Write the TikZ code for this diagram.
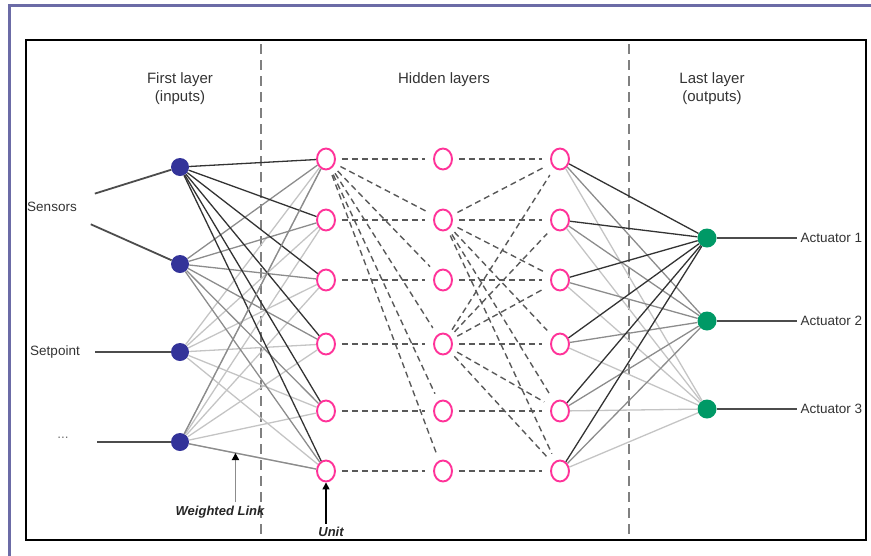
\documentclass[tikz,border=0pt]{standalone}
\usepackage{fontspec}
\setmainfont{Liberation Sans}
\usetikzlibrary{arrows.meta,calc,shapes.geometric}
\definecolor{Frame}{HTML}{6B6BA6}
\definecolor{InBlue}{HTML}{333399}
\definecolor{UnitPink}{HTML}{FF3399}
\definecolor{OutGreen}{HTML}{009966}
\definecolor{Dark}{HTML}{333333}
\definecolor{Mid}{HTML}{8C8C8C}
\definecolor{Pale}{HTML}{C4C4C4}

\begin{document}
\begin{tikzpicture}[x=1pt,y=-1pt,>={Triangle[length=7pt,width=7pt,color=black]},
    innode/.style={circle,fill=InBlue,minimum size=18pt,inner sep=0pt},
    unit/.style={ellipse,draw=UnitPink,line width=1.9pt,fill=white,minimum width=18pt,minimum height=21pt,inner sep=0pt},
    outnode/.style={circle,fill=OutGreen,minimum size=19pt,inner sep=0pt},
    head/.style={font=\fontsize{15}{18}\selectfont,text=black!80,align=center},
    lab/.style={font=\fontsize{13.5}{15}\selectfont,text=black!80},
    note/.style={font=\bfseries\itshape\fontsize{13}{15}\selectfont,text=black!85},
    link/.style={line width=1.3pt},
    feed/.style={line width=1.8pt,black!70},
    hop/.style={line width=1.4pt,black!65,dash pattern=on 6pt off 4pt,shorten <=6pt,shorten >=8pt}]
  \useasboundingbox (0,0) rectangle (871,555);
  \draw[Frame,line width=3pt] (9,560) -- (9,5) -- (875,5);
  \draw[line width=2.4pt] (26,40) rectangle (866,540);
  \foreach \x in {261,629}
    \draw[black!50,line width=2pt,dash pattern=on 10pt off 6pt] (\x,44) -- (\x,538);

  \node[head] (first) at (180,89) {First layer\\(inputs)};
  \node[head] (hidden) at (444,80) {Hidden layers};
  \node[head] (last) at (712,89) {Last layer\\(outputs)};

  \foreach \i/\y in {1/167,2/264,3/352,4/442}
    \node[innode] (in\i) at (180,\y) {};
  \foreach \i/\y in {1/159,2/220,3/280,4/344,5/411,6/471}{
    \node[unit] (ha\i) at (326,\y) {};
    \node[unit] (hb\i) at (443,\y) {};
    \node[unit] (hc\i) at (560,\y) {};}
  \foreach \k/\y in {1/238,2/321,3/409}{
    \node[outnode] (out\k) at (707,\y) {};
    \node[lab,anchor=west] (act\k) at (797,\y) {Actuator \k};
    \draw[feed] (out\k) -- (act\k);}

  \foreach \i/\col in {4/Pale,3/Pale,2/Mid,1/Dark}
    \foreach \j in {1,...,6}
      \draw[link,\col] (in\i) -- (ha\j);
  \draw[link,Mid] (in4) -- (ha1);
  \draw[link,Mid] (in4) -- (ha6);

  \foreach \i in {1,...,6}{
    \draw[hop] (ha\i) -- (hb\i);
    \draw[hop] (hb\i) -- (hc\i);}
  \foreach \j in {2,...,6}
    \draw[hop] (ha1) -- (hb\j);
  \foreach \j in {1,3,4,5,6}
    \draw[hop] (hb2) -- (hc\j);
  \foreach \j in {1,2,3,5,6}
    \draw[hop] (hb4) -- (hc\j);

  \foreach \k/\col in {3/Pale,2/Mid,1/Dark}
    \foreach \j in {1,...,6}
      \draw[link,\col] (hc\j) -- (out\k);

  \node[lab] (sens) at (52,207) {Sensors};
  \node[lab] (setp) at (55,352) {Setpoint};
  \node[lab,text=black!55] (more) at (63,438) {...};
  \coordinate (morestart) at (97,442);
  \draw[feed,shorten <=17pt] (sens) -- (in1);
  \draw[feed,shorten <=22pt] (sens) -- (in2);
  \draw[feed,shorten <=12pt] (setp) -- (in3);
  \draw[feed] (morestart) -- (in4);

  \node[note] (weighted) at (220,512) {Weighted Link};
  \coordinate (wtip) at ($(in4)!.38!(ha6)$);
  \draw[->,Mid,line width=1.8pt] (weighted.north -| wtip) -- (wtip);
  \node[note] (unitlab) at (331,532) {Unit};
  \draw[->,line width=1.6pt] (unitlab.north -| ha6) -- (ha6);
\end{tikzpicture}
\end{document}
